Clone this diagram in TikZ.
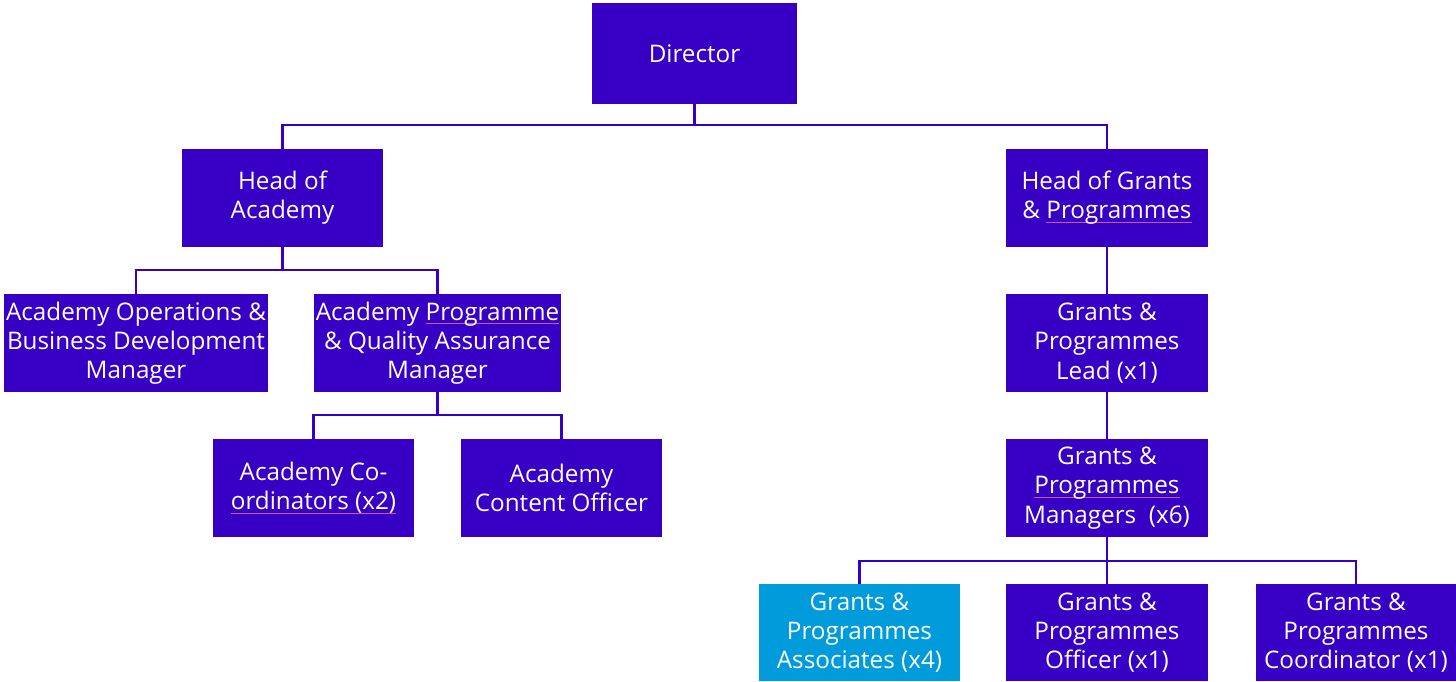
\documentclass[tikz,border=0pt]{standalone}
\usepackage{fontspec}
\setmainfont{Open Sans}
\definecolor{boxc}{RGB}{55,0,196}
\definecolor{assocc}{RGB}{0,155,219}
\definecolor{sqc}{RGB}{200,90,150}
\newsavebox\sqbox
\newcommand\sqline[1]{\sbox\sqbox{#1}\rlap{\color{sqc}\rule[-2.4pt]{\wd\sqbox}{0.5pt}}\usebox\sqbox}
\begin{document}
\begin{tikzpicture}[x=0.02cm,y=-0.02cm,
  role/.style={fill=boxc, draw=none, text=white, align=center, inner sep=0pt,
    font=\fontsize{13.8}{16.6}\selectfont},
  assoc/.style={role, fill=assocc},
  conn/.style={draw=boxc, line width=1.3pt}]
\useasboundingbox (0,0) rectangle (1456,681);
% boxes
\node[role, minimum width=4.1cm, minimum height=2.02cm] (dir) at (694.5,53.5) {Director};
\node[role, minimum width=4.02cm, minimum height=1.96cm] (hoa) at (282.5,198) {Head of\\Academy};
\node[role, minimum width=4.04cm, minimum height=1.96cm] (hog) at (1107,198) {Head of Grants\\\& \sqline{Programmes}};
\node[role, minimum width=5.28cm, minimum height=1.96cm] (aops) at (136,343) {Academy Operations \&\\Business Development\\Manager};
\node[role, minimum width=4.94cm, minimum height=1.96cm] (apqa) at (437.5,343) {Academy \sqline{Programme}\\\& Quality Assurance\\Manager};
\node[role, minimum width=4.04cm, minimum height=1.96cm] (lead) at (1107,343) {Grants \&\\Programmes\\Lead (x1)};
\node[role, minimum width=4.02cm, minimum height=1.96cm] (coord) at (313.5,488) {Academy Co-\\\sqline{ordinators (x2)}};
\node[role, minimum width=4.02cm, minimum height=1.96cm] (cont) at (561.5,488) {Academy\\Content Officer};
\node[role, minimum width=4.04cm, minimum height=1.96cm] (mgr) at (1107,488) {Grants \&\\\sqline{Programmes}\\Managers\ \ (x6)};
\node[assoc, minimum width=4.02cm, minimum height=1.94cm] (asc) at (859.5,632.5) {Grants \&\\Programmes\\Associates (x4)};
\node[role, minimum width=4.04cm, minimum height=1.94cm] (off) at (1107,632.5) {Grants \&\\Programmes\\Officer (x1)};
\node[role, minimum width=4.0cm, minimum height=1.94cm] (gpc) at (1356,632.5) {Grants \&\\Programmes\\Coordinator (x1)};
% junctions
\coordinate (j1) at (694.5,125);
\coordinate (j2) at (282.5,270);
\coordinate (j3) at (437.5,415);
\coordinate (j4) at (1107,561);
% connectors
\draw[conn] (dir.south) -- (j1) -| (hoa.north);
\draw[conn] (j1) -| (hog.north);
\draw[conn] (hoa.south) -- (j2) -| (aops.north);
\draw[conn] (j2) -| (apqa.north);
\draw[conn] (apqa.south) -- (j3) -| (coord.north);
\draw[conn] (j3) -| (cont.north);
\draw[conn] (hog.south) -- (lead.north);
\draw[conn] (lead.south) -- (mgr.north);
\draw[conn] (mgr.south) -- (j4) -| (asc.north);
\draw[conn] (j4) -| (gpc.north);
\draw[conn] (j4) -- (off.north);
\end{tikzpicture}
\end{document}
